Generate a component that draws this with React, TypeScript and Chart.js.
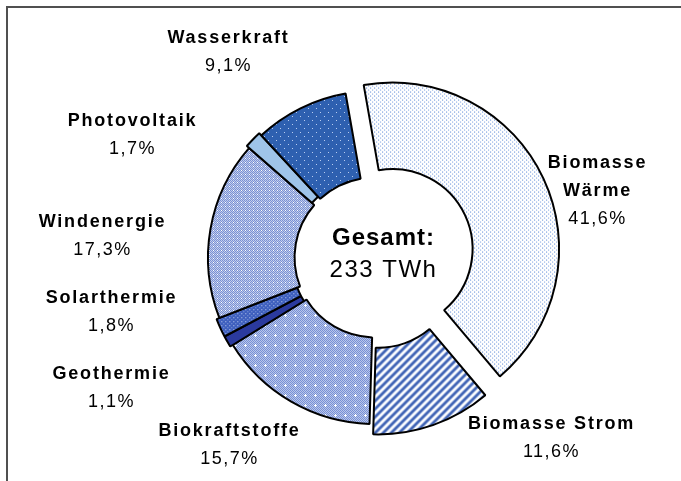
import React, { useEffect, useRef } from "react";
import { Chart, registerables } from "chart.js";

Chart.register(...registerables);

// ---- data ----
const CATEGORIES = [
  "Biomasse Wärme",
  "Biomasse Strom",
  "Biokraftstoffe",
  "Geothermie",
  "Solarthermie",
  "Windenergie",
  "Photovoltaik",
  "Wasserkraft",
];
const SHARES = [41.6, 11.6, 15.7, 1.1, 1.8, 17.3, 1.7, 9.1];
const LABEL_LINES = [
  ["Biomasse", "Wärme"],
  ["Biomasse Strom"],
  ["Biokraftstoffe"],
  ["Geothermie"],
  ["Solarthermie"],
  ["Windenergie"],
  ["Photovoltaik"],
  ["Wasserkraft"],
];
const TOTAL_TITLE = "Gesamt:";
const TOTAL_VALUE = "233 TWh";

// ---- layout / style (not data) ----
const EXPLODE = [20, 11, 0, 3, 3, 0, 3, 0];
const LABEL_ANCHORS: [number, number][] = [
  [223, -94],
  [177, 167],
  [-145, 174],
  [-263, 117],
  [-263, 41],
  [-272, -35],
  [-242, -136],
  [-146, -219],
];
const FONT = "Arial, 'Liberation Sans', sans-serif";

function tile(w: number, h: number, draw: (c: CanvasRenderingContext2D) => void) {
  const cv = document.createElement("canvas");
  cv.width = w;
  cv.height = h;
  const c = cv.getContext("2d")!;
  draw(c);
  return c.createPattern(cv, "repeat")!;
}

function px(c: CanvasRenderingContext2D, x: number, y: number, col: string, s = 1) {
  c.fillStyle = col;
  c.fillRect(x, y, s, s);
}

function makePatterns() {
  const warme = tile(4, 4, (c) => {
    c.fillStyle = "#ffffff";
    c.fillRect(0, 0, 4, 4);
    px(c, 0, 0, "#4a7bd4");
    px(c, 2, 2, "#6f96de");
  });
  const strom = tile(8, 8, (c) => {
    c.fillStyle = "#ffffff";
    c.fillRect(0, 0, 8, 8);
    for (let x = 0; x < 8; x++)
      for (let y = 0; y < 8; y++) {
        const m = (x + y) % 8;
        if (m === 0 || m === 1 || m === 2) px(c, x, y, "#3f63b4");
        else if (m === 3 || m === 7) px(c, x, y, "#9fb3e0");
      }
  });
  const biokraft = tile(10, 10, (c) => {
    c.fillStyle = "#b8c6ec";
    c.fillRect(0, 0, 10, 10);
    for (let x = 0; x < 10; x++)
      for (let y = 0; y < 10; y++) if ((x + y) % 2 === 0) px(c, x, y, "#7890d4");
    px(c, 5, 4, "#ffffff");
    px(c, 4, 5, "#ffffff");
    px(c, 5, 5, "#ffffff");
    px(c, 6, 5, "#ffffff");
    px(c, 5, 6, "#ffffff");
  });
  const geo = "#2b3a9e";
  const solar = tile(4, 4, (c) => {
    c.fillStyle = "#3e5fbe";
    c.fillRect(0, 0, 4, 4);
    px(c, 0, 0, "#c8d4f2");
    px(c, 2, 2, "#8ea5e0");
  });
  const wind = tile(4, 4, (c) => {
    c.fillStyle = "#c0ccee";
    c.fillRect(0, 0, 4, 4);
    for (let x = 0; x < 4; x++)
      for (let y = 0; y < 4; y++) if ((x + y) % 2 === 0) px(c, x, y, "#7a91d2");
    px(c, 1, 2, "#ffffff");
  });
  const pv = "#9fc4e9";
  const wasser = tile(8, 8, (c) => {
    c.fillStyle = "#2e60b0";
    c.fillRect(0, 0, 8, 8);
    px(c, 0, 0, "#b9cdf0");
    px(c, 4, 4, "#b9cdf0");
  });
  return [warme, strom, biokraft, geo, solar, wind, pv, wasser];
}

// Exploded slices: translate each arc along its mid-angle while drawing.
const explodePlugin = {
  id: "explode",
  afterDatasetsUpdate(chart: any) {
    const meta = chart.getDatasetMeta(0);
    meta.data.forEach((el: any, i: number) => {
      if (el.__wrapped) return;
      el.__wrapped = true;
      const orig = el.draw;
      el.draw = function (ctx: CanvasRenderingContext2D, area: any) {
        const d = EXPLODE[i] || 0;
        const mid = (this.startAngle + this.endAngle) / 2;
        ctx.save();
        ctx.translate(Math.cos(mid) * d, Math.sin(mid) * d);
        orig.call(this, ctx, area);
        ctx.restore();
      };
    });
  },
};

const labelPlugin = {
  id: "sliceLabels",
  afterDraw(chart: any) {
    const meta = chart.getDatasetMeta(0);
    const arc = meta.data[0];
    if (!arc) return;
    const cx = arc.x;
    const cy = arc.y;
    const ctx = chart.ctx as CanvasRenderingContext2D;
    ctx.save();
    ctx.fillStyle = "#000000";
    ctx.textAlign = "center";
    ctx.textBaseline = "middle";
    const lh = 28;
    SHARES.forEach((v, i) => {
      const [dx, dy] = LABEL_ANCHORS[i];
      const lines = LABEL_LINES[i];
      let y = cy + dy;
      (ctx as any).letterSpacing = "1.8px";
      ctx.font = `bold 18px ${FONT}`;
      lines.forEach((ln) => {
        ctx.fillText(ln, cx + dx, y);
        y += lh;
      });
      (ctx as any).letterSpacing = "1.5px";
      ctx.font = `18px ${FONT}`;
      ctx.fillText(v.toFixed(1).replace(".", ",") + "%", cx + dx, y);
    });
    (ctx as any).letterSpacing = "1px";
    ctx.font = `bold 24px ${FONT}`;
    ctx.fillText(TOTAL_TITLE, cx + 9, cy - 19);
    (ctx as any).letterSpacing = "1.5px";
    ctx.font = `24px ${FONT}`;
    ctx.fillText(TOTAL_VALUE, cx + 9, cy + 13);
    ctx.restore();
  },
};

export default function App() {
  const ref = useRef<HTMLCanvasElement | null>(null);
  useEffect(() => {
    if (!ref.current) return;
    const chart = new Chart(ref.current, {
      type: "doughnut",
      data: {
        labels: CATEGORIES,
        datasets: [
          {
            data: SHARES,
            backgroundColor: makePatterns() as any,
            borderColor: "#000000",
            borderWidth: 2,
            hoverOffset: 0,
            clip: false,
          } as any,
        ],
      },
      options: {
        responsive: false,
        animation: false,
        rotation: -10,
        cutout: "48%",
        layout: { padding: { left: 207, right: 139, top: 89, bottom: 55 } },
        plugins: { legend: { display: false }, tooltip: { enabled: false } },
        events: [],
      },
      plugins: [explodePlugin, labelPlugin],
    });
    return () => chart.destroy();
  }, []);
  return (
    <div style={{ position: "fixed", left: 0, top: 0, width: 681, height: 481, background: "#fff" }}>
      <canvas ref={ref} width={681} height={481} style={{ display: "block" }} />
      <div
        style={{
          position: "absolute",
          left: 6,
          top: 6,
          width: 700,
          height: 500,
          borderTop: "2px solid #505050",
          borderLeft: "2px solid #505050",
          pointerEvents: "none",
        }}
      />
    </div>
  );
}
